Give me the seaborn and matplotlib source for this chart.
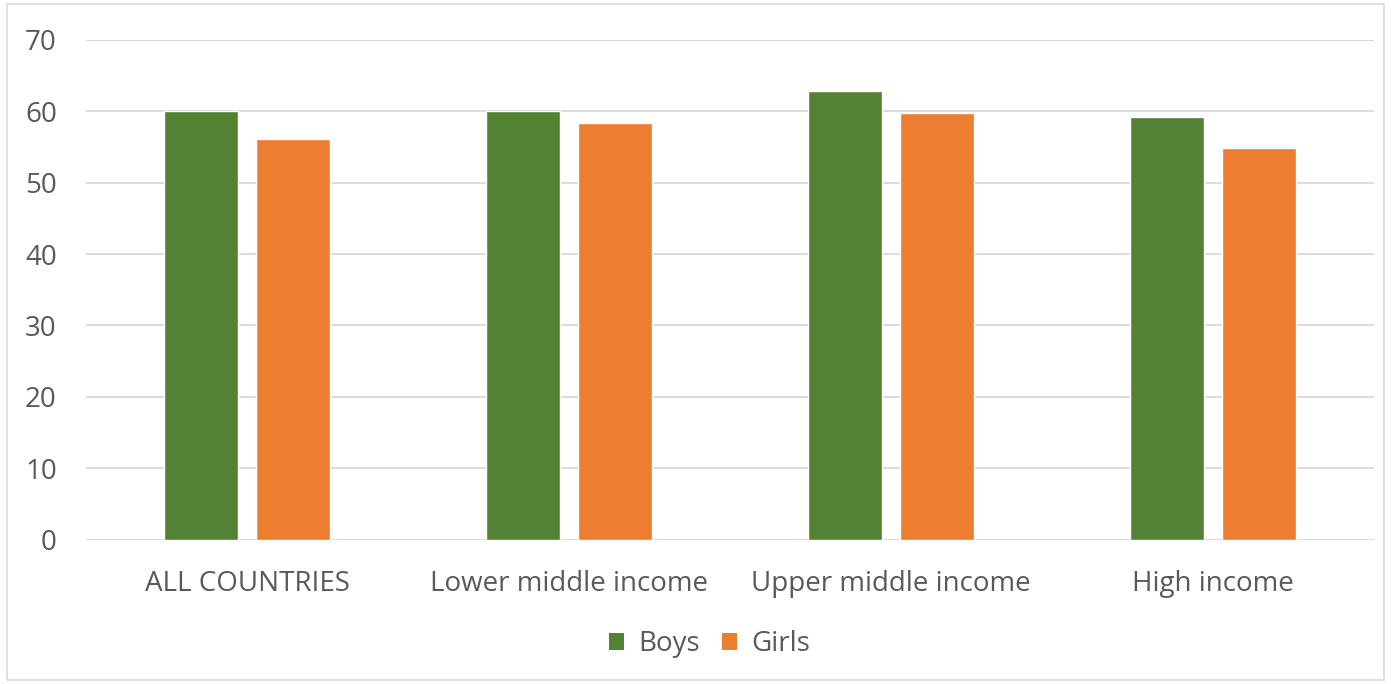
import matplotlib
matplotlib.use("Agg")
import matplotlib.pyplot as plt
from matplotlib.patches import Rectangle, Patch
import seaborn as sns
import pandas as pd

categories = ["ALL COUNTRIES", "Lower middle income", "Upper middle income", "High income"]
boys = [60.0, 60.1, 62.8, 59.2]
girls = [56.1, 58.3, 59.7, 54.8]
series_names = ["Boys", "Girls"]
y_ticks = [0, 10, 20, 30, 40, 50, 60, 70]

colors = {"Boys": "#548235", "Girls": "#ED7D31"}
text_color = "#595959"
grid_color = "#D9D9D9"

df = pd.DataFrame({
    "category": categories * 2,
    "group": [series_names[0]] * len(categories) + [series_names[1]] * len(categories),
    "value": boys + girls,
})

sns.set_theme(style="white")
plt.rcParams["font.family"] = ["Open Sans", "DejaVu Sans"]

fig = plt.figure(figsize=(13.91, 6.84), dpi=100)
ax = fig.add_axes([86 / 1391, 1 - 539.5 / 684, (1374 - 86) / 1391, (539.5 - 40) / 684])

sns.barplot(data=df, x="category", y="value", hue="group", palette=colors,
            order=categories, hue_order=series_names, width=0.571, gap=0.2,
            saturation=1, legend=False, ax=ax, zorder=3)

ax.set_ylim(0, 70)
ax.set_xlim(-0.5, len(categories) - 0.5)
ax.set_yticks(y_ticks)
ax.set_yticklabels([str(t) for t in y_ticks])
ax.set_xlabel("")
ax.set_ylabel("")
ax.grid(axis="y", color=grid_color, linewidth=1.3, zorder=0)
ax.grid(axis="x", visible=False)
for s in ax.spines.values():
    s.set_visible(False)
ax.tick_params(axis="both", length=0, labelsize=20, labelcolor=text_color)
ax.tick_params(axis="y", pad=21)
ax.tick_params(axis="x", pad=22)

handles = [Patch(facecolor=colors[n], edgecolor="none", label=n) for n in series_names]
fig.legend(handles=handles, loc="center", bbox_to_anchor=(0.51, 1 - 644 / 684), ncol=2,
           frameon=False, fontsize=20, labelcolor=text_color, handlelength=0.55,
           handleheight=0.55, handletextpad=0.5, columnspacing=0.8)

fig.patches.append(Rectangle((7 / 1391, 4 / 684), 1377 / 1391, 676 / 684, transform=fig.transFigure,
                             fill=False, edgecolor="#D9D9D9", linewidth=1.2))

fig.savefig("out.png", dpi=100, facecolor="white")
